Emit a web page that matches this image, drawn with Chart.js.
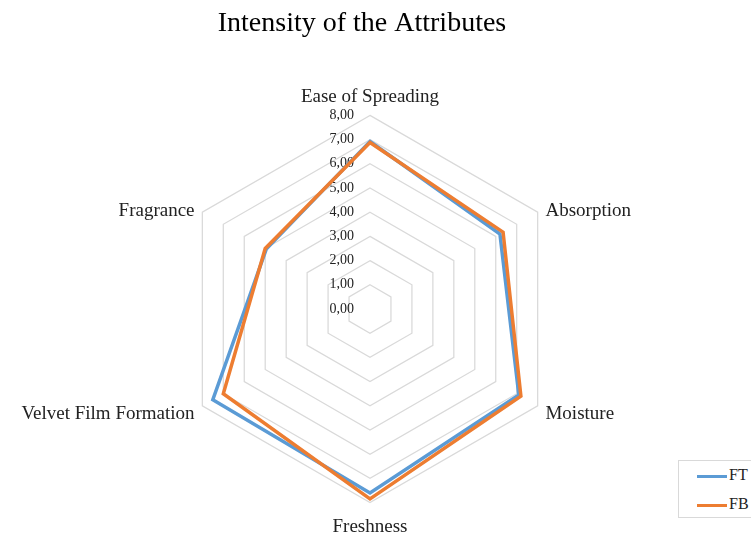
<!DOCTYPE html>
<html lang="en">
<head>
  <meta charset="UTF-8">
  <title>Intensity of the Attributes</title>
  <script src="https://cdn.jsdelivr.net/npm/chart.js"></script>
  <style>
    html, body {
      margin: 0;
      padding: 0;
      background: #ffffff;
    }
    #wrap {
      position: relative;
      width: 751px;
      height: 537px;
    }
    #legendBox {
      position: absolute;
      left: 678px;
      top: 460px;
      width: 80px;
      height: 56px;
      border: 1px solid #d9d9d9;
      background: #fff;
      font-family: 'Liberation Serif', 'Times New Roman', serif;
      font-size: 16px;
      color: #222;
    }
    .row {
      position: absolute;
      left: 18px;
      height: 18px;
      line-height: 18px;
      white-space: nowrap;
    }
    .row span.swatch {
      display: inline-block;
      width: 30px;
      height: 0;
      border-top: 3px solid;
      vertical-align: middle;
      margin-right: 2px;
    }
  </style>
</head>
<body>
  <div id="wrap">
    <canvas id="radarChart" width="751" height="537"></canvas>
    <div id="legendBox"></div>
  </div>

  <script>
    const categories = ['Ease of Spreading', 'Absorption', 'Moisture', 'Freshness', 'Velvet Film Formation', 'Fragrance'];
    const seriesNames = ['FT', 'FB'];
    const ftValues = [6.92, 6.20, 7.10, 7.60, 7.50, 4.95];
    const fbValues = [6.88, 6.35, 7.20, 7.85, 7.00, 5.00];
    const tickLabels = ['0,00', '1,00', '2,00', '3,00', '4,00', '5,00', '6,00', '7,00', '8,00'];
    const colors = ['#5b9bd5', '#ed7d31'];

    // tick labels sit left of the vertical axis, 0,00 included (like Excel)
    const tickLabelPlugin = {
      id: 'tickLabels',
      beforeDatasetsDraw(chart) {
        const scale = chart.scales.r;
        const ctx = chart.ctx;
        ctx.save();
        ctx.font = '14px "Liberation Serif"';
        ctx.fillStyle = '#222';
        ctx.textAlign = 'right';
        ctx.textBaseline = 'middle';
        scale.ticks.forEach((t, i) => {
          const d = scale.getDistanceFromCenterForValue(t.value);
          ctx.fillText(tickLabels[i], scale.xCenter - 16, scale.yCenter - d);
        });
        ctx.restore();
      }
    };

    // Excel centres the side labels on their vertex instead of above/below it
    const labelShiftPlugin = {
      id: 'labelShift',
      afterLayout(chart) {
        const scale = chart.scales.r;
        const items = scale._pointLabelItems;
        if (!items) return;
        items.forEach((item, i) => {
          const h = item.bottom - item.top;
          const p = scale.getPointPosition(i, scale.drawingArea);
          let dy;
          if (i === 0) dy = 2;
          else if (i === 3) dy = 4;
          else if (i === 1 || i === 5) dy = (p.y - 1) - (item.top + h / 2);
          else dy = (p.y + 8) - (item.top + h / 2);
          item.y += dy;
          item.top += dy;
          item.bottom += dy;
        });
      }
    };

    const ctx = document.getElementById('radarChart').getContext('2d');
    const chart = new Chart(ctx, {
      type: 'radar',
      data: {
        labels: categories,
        datasets: [
          {
            label: seriesNames[0],
            data: ftValues,
            borderColor: colors[0],
            backgroundColor: 'rgba(0,0,0,0)',
            borderWidth: 3.5,
            borderJoinStyle: 'miter',
            pointRadius: 0,
            fill: false,
            order: 1
          },
          {
            label: seriesNames[1],
            data: fbValues,
            borderColor: colors[1],
            backgroundColor: 'rgba(0,0,0,0)',
            borderWidth: 3.5,
            borderJoinStyle: 'miter',
            pointRadius: 0,
            fill: false,
            order: 0
          }
        ]
      },
      options: {
        responsive: false,
        animation: false,
        layout: {
          padding: { left: 0, right: 27, top: 0, bottom: 1 }
        },
        plugins: {
          legend: { display: false },
          tooltip: { enabled: false },
          title: {
            display: true,
            text: 'Intensity of the Attributes',
            color: '#000',
            font: { family: 'Liberation Serif', size: 28, weight: 'normal' },
            padding: { top: 7, bottom: 43 }
          }
        },
        scales: {
          r: {
            min: 0,
            max: 8,
            ticks: {
              stepSize: 1,
              display: false,
              callback: (v, i) => tickLabels[i]
            },
            angleLines: { display: false },
            grid: { color: '#d9d9d9', lineWidth: 1.25, circular: false },
            pointLabels: {
              color: '#222',
              padding: 9,
              font: { family: 'Liberation Serif', size: 19 }
            }
          }
        }
      },
      plugins: [tickLabelPlugin, labelShiftPlugin]
    });

    // legend built from the series
    const legendBox = document.getElementById('legendBox');
    seriesNames.forEach((name, i) => {
      const row = document.createElement('div');
      row.className = 'row';
      row.style.top = (5 + i * 29) + 'px';
      row.innerHTML = '<span class="swatch" style="border-color:' + colors[i] + '"></span>' + name;
      legendBox.appendChild(row);
    });
  </script>
</body>
</html>
